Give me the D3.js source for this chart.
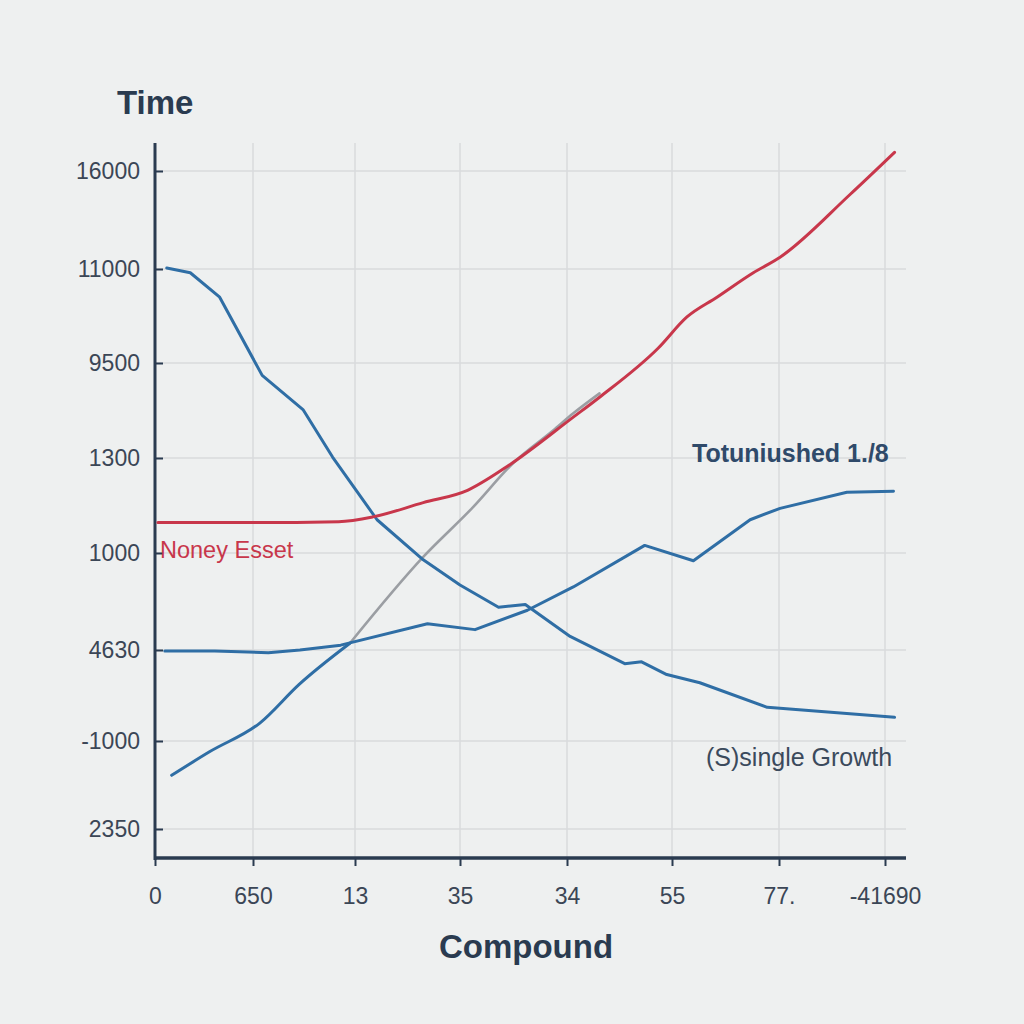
<!DOCTYPE html>
<html><head><meta charset="utf-8">
<script src="https://cdn.jsdelivr.net/npm/d3@7"></script>
<style>
html,body{margin:0;padding:0;background:#eef0f0;}
svg{display:block;font-family:"Liberation Sans",Arial,sans-serif;}
</style></head>
<body>
<svg id="c" width="1024" height="1024"></svg>
<script>
// Tick labels (as printed on the chart, in slot order)
const xLabels = ["0","650","13","35","34","55","77.","-41690"];
const yLabels = ["2350","-1000","4630","1000","1300","9500","11000","16000"];

// Series values in tick-slot units [x, y]
const redSeries = [[0.03,3.32],[0.97,3.32],[1.84,3.33],[2.17,3.38],[2.65,3.53],[3.07,3.66],[3.44,3.91],[4.06,4.43],[4.31,4.64],[4.87,5.16],[5.14,5.49],[5.42,5.70],[5.76,5.96],[6.01,6.12],[6.67,6.76],[7.09,7.19]];
const blueDecline = [[0.12,6.01],[0.36,5.96],[0.66,5.70],[1.09,4.87],[1.49,4.51],[1.78,4.01],[2.21,3.35],[2.65,2.93],[3.0,2.67],[3.36,2.44],[3.61,2.47],[4.03,2.14],[4.55,1.85],[4.71,1.87],[4.95,1.73],[5.26,1.64],[5.89,1.37],[7.09,1.26]];
const blueRise = [[0.10,1.99],[0.61,1.99],[1.15,1.97],[1.46,2.0],[1.86,2.05],[2.69,2.27],[3.14,2.21],[3.63,2.41],[4.06,2.65],[4.74,3.08],[5.20,2.92],[5.73,3.35],[6.01,3.47],[6.64,3.64],[7.08,3.65]];
const blueLow = [[0.17,0.61],[0.56,0.88],[1.07,1.20],[1.45,1.62],[1.95,2.07]];
const grayRise = [[1.95,2.07],[2.65,2.96],[3.12,3.48],[3.50,3.95],[3.87,4.29],[4.06,4.47],[4.31,4.68]];

const svg = d3.select("#c");
const idx = d3.range(8);
const x = d3.scaleLinear().domain(idx).range([155,253,355,460,567,672,779,885]);
const y = d3.scaleLinear().domain(idx).range([829,741,650,553,458,363,269,171]);
const navy = "#2a3b50", txt = "#3b4656";

svg.append("rect").attr("width",1024).attr("height",1024).attr("fill","#eef0f0");

// grid
svg.append("g").selectAll("line").data(idx.slice(1)).join("line")
  .attr("x1",d=>x(d)).attr("x2",d=>x(d)).attr("y1",143).attr("y2",858)
  .attr("stroke","#d9dbdc").attr("stroke-width",1.5);
svg.append("g").selectAll("line").data(idx).join("line")
  .attr("x1",155).attr("x2",906).attr("y1",d=>y(d)).attr("y2",d=>y(d))
  .attr("stroke","#d9dbdc").attr("stroke-width",1.5);

// axes
const yAxis = svg.append("g").attr("transform","translate(155,0)")
  .call(d3.axisLeft(y).tickValues(idx).tickFormat(i=>yLabels[i]).tickSizeInner(-8).tickSizeOuter(0).tickPadding(16));
yAxis.select(".domain").remove();
yAxis.selectAll(".tick line").attr("stroke",navy).attr("stroke-width",2);
yAxis.selectAll(".tick text").attr("font-size",23).attr("fill",txt).attr("font-family","Liberation Sans, Arial, sans-serif").attr("x",-15);

const xAxis = svg.append("g").attr("transform","translate(0,858)")
  .call(d3.axisBottom(x).tickValues(idx).tickFormat(i=>xLabels[i]).tickSizeInner(8).tickSizeOuter(0).tickPadding(22));
xAxis.select(".domain").remove();
xAxis.selectAll(".tick line").attr("stroke",navy).attr("stroke-width",2);
xAxis.selectAll(".tick text").attr("font-size",23).attr("fill",txt).attr("font-family","Liberation Sans, Arial, sans-serif");

svg.append("line").attr("x1",155).attr("x2",155).attr("y1",143).attr("y2",860).attr("stroke",navy).attr("stroke-width",3);
svg.append("line").attr("x1",154).attr("x2",906).attr("y1",858).attr("y2",858).attr("stroke",navy).attr("stroke-width",3.5);

// lines
const line = d3.line().x(d=>x(d[0])).y(d=>y(d[1]));
const smooth = d3.line().x(d=>x(d[0])).y(d=>y(d[1])).curve(d3.curveMonotoneX);
function draw(data, color, w, gen){
  svg.append("path").datum(data).attr("d",gen).attr("fill","none")
    .attr("stroke",color).attr("stroke-width",w).attr("stroke-linejoin","round").attr("stroke-linecap","round");
}
draw(grayRise,"#9b9ea3",2.6,smooth);
draw(blueDecline,"#2f6ea5",3,line);
draw(blueRise,"#2f6ea5",3,line);
draw(blueLow,"#2f6ea5",3,smooth);
draw(redSeries,"#c8374b",3,smooth);

// titles & annotations
svg.append("text").attr("x",117).attr("y",114).attr("font-size",33).attr("font-weight","bold").attr("fill",navy).text("Time");
svg.append("text").attr("x",526).attr("y",958).attr("text-anchor","middle").attr("font-size",33).attr("font-weight","bold").attr("fill",navy).text("Compound");
svg.append("text").attr("x",160).attr("y",558).attr("font-size",23.5).attr("fill","#c8374b").text("Noney Esset");
svg.append("text").attr("x",692).attr("y",462).attr("font-size",25).attr("font-weight","bold").attr("fill","#2f4a6a").text("Totuniushed 1./8");
svg.append("text").attr("x",706).attr("y",766).attr("font-size",25).attr("fill","#3b4a5c").text("(S)single Growth");
</script>
</body></html>
